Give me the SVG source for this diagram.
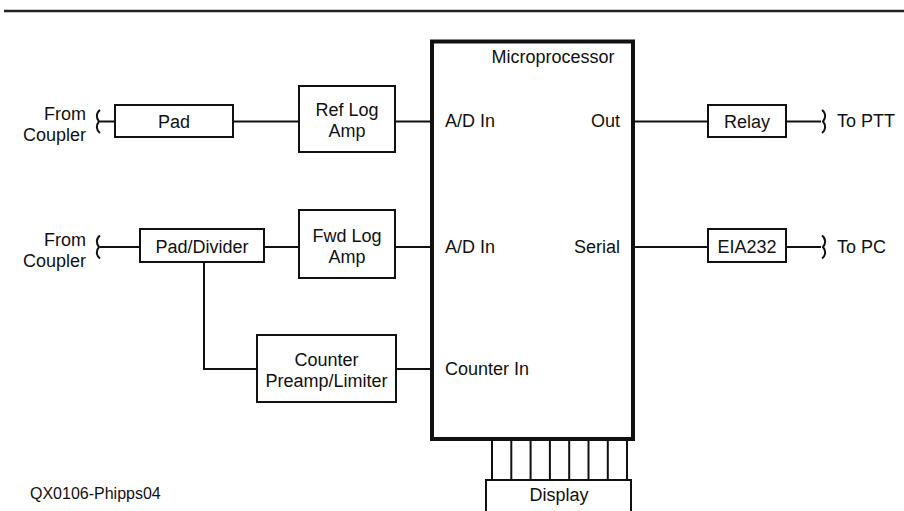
<svg xmlns="http://www.w3.org/2000/svg" width="904" height="511" viewBox="0 0 904 511">
<style>
text{font-family:"Liberation Sans",Arial,sans-serif;font-size:18px;fill:#111}
.b{fill:#fff;stroke:#111;stroke-width:2}
.w{fill:none;stroke:#111;stroke-width:2}
.m{text-anchor:middle}
.e{text-anchor:end}
</style>
<rect width="904" height="511" fill="#fff"/>
<line x1="4" y1="11" x2="904" y2="11" stroke="#222" stroke-width="2.5"/>
<g id="connectors" class="w">
<path d="M100,121.5H115M233,121.5H299M395,121.5H432"/>
<path d="M100,247H140M264,247H299M395,247H432"/>
<path d="M204,262V369H257M396,369H432"/>
<path d="M633,121.5H708M786,121.5H821M633,247H708M786,247H821"/>
<path d="M492,439V480M511.3,439V480M530.6,439V480M549.9,439V480M569.2,439V480M588.5,439V480M607.8,439V480M627,439V480"/>
<path d="M100,110c-4,3 -4,8 -1,11.5c-3,3.5 -3,8.5 1,11.5"/>
<path d="M100,235.5c-4,3 -4,8 -1,11.5c-3,3.5 -3,8.5 1,11.5"/>
<path d="M822,110c4,3 4,8 1,11.5c3,3.5 3,8.5 -1,11.5"/>
<path d="M822,235.5c4,3 4,8 1,11.5c3,3.5 3,8.5 -1,11.5"/>
</g>
<g id="from-coupler-1"><text class="e" x="86" y="120">From</text><text class="e" x="86" y="141">Coupler</text></g>
<g id="from-coupler-2"><text class="e" x="86" y="246">From</text><text class="e" x="86" y="267">Coupler</text></g>
<g id="pad"><rect class="b" x="115" y="105" width="118" height="32"/><text class="m" x="174" y="128">Pad</text></g>
<g id="ref-log-amp"><rect class="b" x="299" y="86" width="96" height="66"/><text class="m" x="347" y="116">Ref Log</text><text class="m" x="347" y="137">Amp</text></g>
<g id="pad-divider"><rect class="b" x="140" y="229" width="124" height="33"/><text class="m" x="202" y="253">Pad/Divider</text></g>
<g id="fwd-log-amp"><rect class="b" x="299" y="210" width="96" height="68"/><text class="m" x="347" y="242">Fwd Log</text><text class="m" x="347" y="263">Amp</text></g>
<g id="counter-preamp"><rect class="b" x="257" y="335" width="139" height="67"/><text class="m" x="326.5" y="365.5">Counter</text><text class="m" x="326.5" y="387">Preamp/Limiter</text></g>
<g id="microprocessor"><rect x="432" y="41.5" width="201" height="397.5" fill="#fff" stroke="#111" stroke-width="4"/>
<text class="m" x="553" y="63">Microprocessor</text>
<text x="445" y="127">A/D In</text><text class="e" x="620" y="127">Out</text>
<text x="445" y="253">A/D In</text><text class="e" x="620" y="253">Serial</text>
<text x="445" y="375">Counter In</text></g>
<g id="relay"><rect class="b" x="708" y="105" width="78" height="32"/><text class="m" x="747" y="128">Relay</text></g>
<g id="eia232"><rect class="b" x="708" y="229" width="78" height="33"/><text class="m" x="747" y="253">EIA232</text></g>
<g id="to-ptt"><text x="837" y="127">To PTT</text></g>
<g id="to-pc"><text x="837" y="253">To PC</text></g>
<g id="display"><rect class="b" x="486" y="480" width="145" height="40"/><text class="m" x="559" y="501">Display</text></g>
<text x="30" y="499" style="font-size:16px">QX0106-Phipps04</text>
</svg>
